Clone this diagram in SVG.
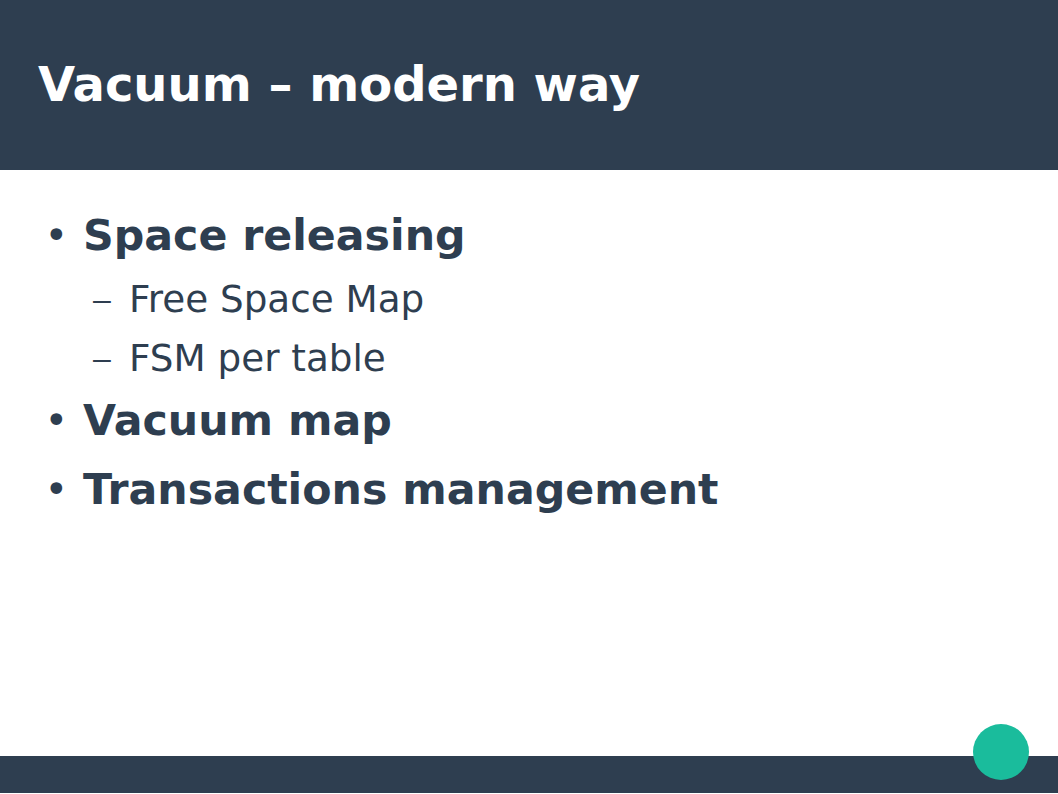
<svg xmlns="http://www.w3.org/2000/svg" width="1058" height="794" viewBox="0 0 1058 794">
<style>
.t{font-family:"DejaVu Sans","Liberation Sans",sans-serif;fill:#2e3e50}
.b{font-weight:bold;font-size:42.7px}
.s{font-size:37.3px}
.bul{font-size:40px}
.d{font-family:"Liberation Sans",sans-serif;font-size:32px;fill:#2e3e50}
</style>
<rect width="1058" height="794" fill="#ffffff"/>
<g id="header">
<rect x="0" y="0" width="1058" height="170" fill="#2e3e50"/>
<text x="38" y="101" font-family="DejaVu Sans, Liberation Sans, sans-serif" font-weight="bold" font-size="48" fill="#ffffff">Vacuum – modern way</text>
</g>
<g id="content">
<text class="t bul" x="44.5" y="249">•</text>
<text class="t b" x="83" y="250">Space releasing</text>
<text class="d" x="93" y="310">–</text>
<text class="t s" x="129" y="312">Free Space Map</text>
<text class="d" x="93" y="369">–</text>
<text class="t s" x="129" y="371">FSM per table</text>
<text class="t bul" x="44.5" y="434">•</text>
<text class="t b" x="83" y="435">Vacuum map</text>
<text class="t bul" x="44.5" y="503">•</text>
<text class="t b" x="83" y="504">Transactions management</text>
</g>
<g id="footer">
<rect x="0" y="756" width="1058" height="37" fill="#2e3e50"/>
<circle cx="1001" cy="752" r="28" fill="#1abc9c"/>
</g>
</svg>
